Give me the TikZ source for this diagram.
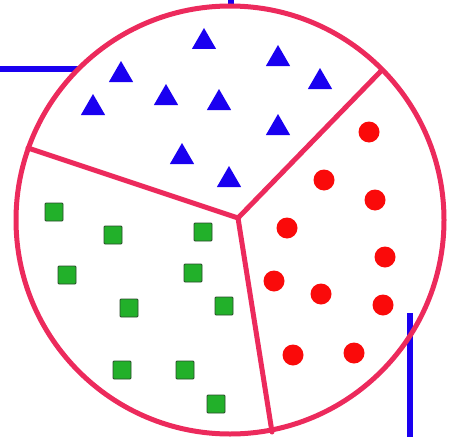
\documentclass[tikz,border=0pt]{standalone}
\usetikzlibrary{shapes.geometric}

\definecolor{rimpink}{HTML}{EC2A5C}
\definecolor{markblue}{HTML}{1A00F0}
\definecolor{markred}{HTML}{FA0A0A}
\definecolor{markgreen}{HTML}{22B02A}
\definecolor{greenedge}{HTML}{2A4A2A}

\begin{document}
\begin{tikzpicture}[
    x=1pt, y=-1pt,
    rim/.style={draw=rimpink, line width=5pt},
    wire/.style={draw=markblue, line width=6.5pt},
    tri/.style={regular polygon, regular polygon sides=3, fill=markblue,
        minimum size=28pt, inner sep=0pt},
    dot/.style={circle, fill=markred, minimum size=21pt, inner sep=0pt},
    sq/.style={rectangle, fill=markgreen, draw=greenedge, line width=0.8pt,
        rounded corners=1pt, minimum size=18pt, inner sep=0pt},
]

\useasboundingbox (0,0) rectangle (449,436);

% Blue wires behind the disc
\coordinate (wl0) at (0,69);
\coordinate (wl1) at (78,69);
\draw[wire] (wl0) -- (wl1);
\coordinate (wt0) at (231,-2);
\coordinate (wt1) at (231,6);
\draw[wire] (wt0) -- (wt1);
\coordinate (wr0) at (410,313);
\coordinate (wr1) at (410,440);
\draw[wire] (wr0) -- (wr1);

% Disc and sectors
\coordinate (ctr) at (238,218);
\coordinate (cutL) at (28,148);
\coordinate (cutR) at (381,71);
\coordinate (cutB) at (272,432);
\draw[rim] (230,220) circle (214);
\draw[rim, line cap=round] (cutL) -- (ctr) -- (cutR);
\draw[rim, line cap=round] (ctr) -- (cutB);

% Triangles
\foreach \px/\py [count=\i] in {204/42, 278/59, 121/75, 320/82, 93/108,
    166/98, 219/103, 278/128, 182/157, 229/180}
    \node[tri] (t\i) at (\px,\py) {};

% Dots
\foreach \px/\py [count=\i] in {369/132, 324/180, 375/200, 287/228, 385/257,
    274/281, 321/294, 383/305, 293/355, 354/353}
    \node[dot] (d\i) at (\px,\py) {};

% Squares
\foreach \px/\py [count=\i] in {54/212, 113/235, 203/232, 67/275, 193/273,
    224/306, 129/308, 122/370, 185/370, 216/404}
    \node[sq] (s\i) at (\px,\py) {};

\end{tikzpicture}
\end{document}
